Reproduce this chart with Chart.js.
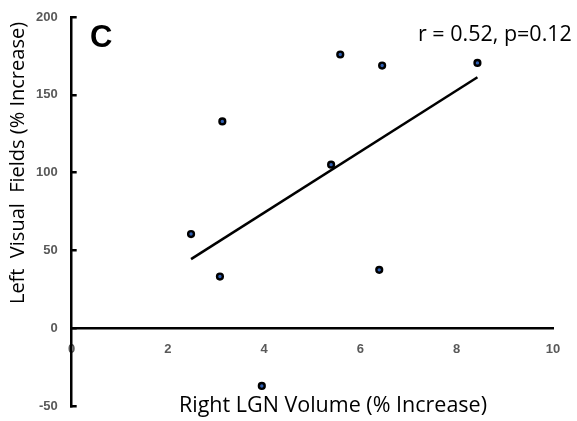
<!DOCTYPE html>
<html>
<head>
<meta charset="utf-8">
<script src="https://cdn.jsdelivr.net/npm/chart.js@4.4.1/dist/chart.umd.min.js"></script>
<style>
  html, body { margin: 0; padding: 0; background: #fff; }
  #wrap { width: 577px; height: 421px; }
</style>
</head>
<body>
<div id="wrap"><canvas id="graphCanvas"></canvas></div>
<script>
// values
const lgnVolume = [2.48, 3.08, 3.13, 3.95, 5.39, 5.58, 6.39, 6.45, 8.43];
const visualFields = [60.5, 33.2, 132.9, -37.1, 105.1, 175.9, 37.5, 168.8, 170.5];
const fitX = [2.48, 8.43];
const fitY = [44.4, 161.3];
const xTicks = [0, 2, 4, 6, 8, 10];
const yTicks = [-50, 0, 50, 100, 150, 200];

const panelLabel = 'C';
const statsLabel = 'r = 0.52, p=0.12';
const xTitle = 'Right LGN Volume (% Increase)';
const yTitle = 'Left  Visual  Fields (% Increase)';

const tickFont = { family: 'Liberation Sans', size: 13, weight: 'bold' };
const tickColor = '#595959';

const textPlugin = {
    id: 'textPlugin',
    afterDraw(chart) {
        const ctx = chart.ctx;
        ctx.save();
        ctx.fillStyle = '#000';

        ctx.font = 'bold 31px "Liberation Sans"';
        ctx.textAlign = 'left';
        ctx.textBaseline = 'alphabetic';
        ctx.fillText(panelLabel, 90, 47);

        ctx.font = '21.5px "Open Sans"';
        ctx.fillText(statsLabel, 418, 41);

        ctx.textAlign = 'center';
        ctx.fillText(xTitle, 333, 412);

        ctx.font = '20px "Open Sans"';
        ctx.translate(24, 163);
        ctx.rotate(-Math.PI / 2);
        ctx.fillText(yTitle, 0, 0);
        ctx.restore();
    }
};

const ctx = document.getElementById('graphCanvas').getContext('2d');
new Chart(ctx, {
    type: 'scatter',
    data: {
        datasets: [{
            label: 'data',
            data: lgnVolume.map((x, i) => ({ x: x, y: visualFields[i] })),
            pointRadius: 2.9,
            pointBorderWidth: 2.4,
            pointBorderColor: '#000',
            pointBackgroundColor: '#2f5fb3',
            showLine: false
        }, {
            label: 'fit',
            data: fitX.map((x, i) => ({ x: x, y: fitY[i] })),
            showLine: true,
            borderColor: '#000',
            borderWidth: 2.5,
            pointRadius: 0
        }]
    },
    options: {
        responsive: true,
        maintainAspectRatio: false,
        animation: false,
        layout: {
            padding: { left: 17, right: 24, top: 17, bottom: 15 }
        },
        plugins: {
            legend: { display: false },
            tooltip: { enabled: false }
        },
        scales: {
            x: {
                type: 'linear',
                position: { y: 0 },
                min: 0,
                max: 10,
                afterBuildTicks: axis => { axis.ticks = xTicks.map(v => ({ value: v })); },
                // axis sits at y = 0, so it should not take room from the plot
                afterFit: axis => { axis.height = 0; },
                grid: { display: false, drawTicks: false },
                border: { display: true, color: '#000', width: 2.5 },
                ticks: { font: tickFont, color: tickColor, padding: 13 }
            },
            y: {
                type: 'linear',
                position: 'left',
                min: -50,
                max: 200,
                afterBuildTicks: axis => { axis.ticks = yTicks.map(v => ({ value: v })); },
                // tick padding is big (ticks point inward), keep it out of the vertical layout
                afterFit: axis => { axis.paddingTop = 0; axis.paddingBottom = 0; },
                grid: { drawOnChartArea: false, drawTicks: true, tickLength: -5, color: '#000', lineWidth: 2.5 },
                border: { display: true, color: '#000', width: 2.5 },
                ticks: { font: tickFont, color: tickColor, padding: 19 }
            }
        }
    },
    plugins: [textPlugin]
});
</script>
</body>
</html>
